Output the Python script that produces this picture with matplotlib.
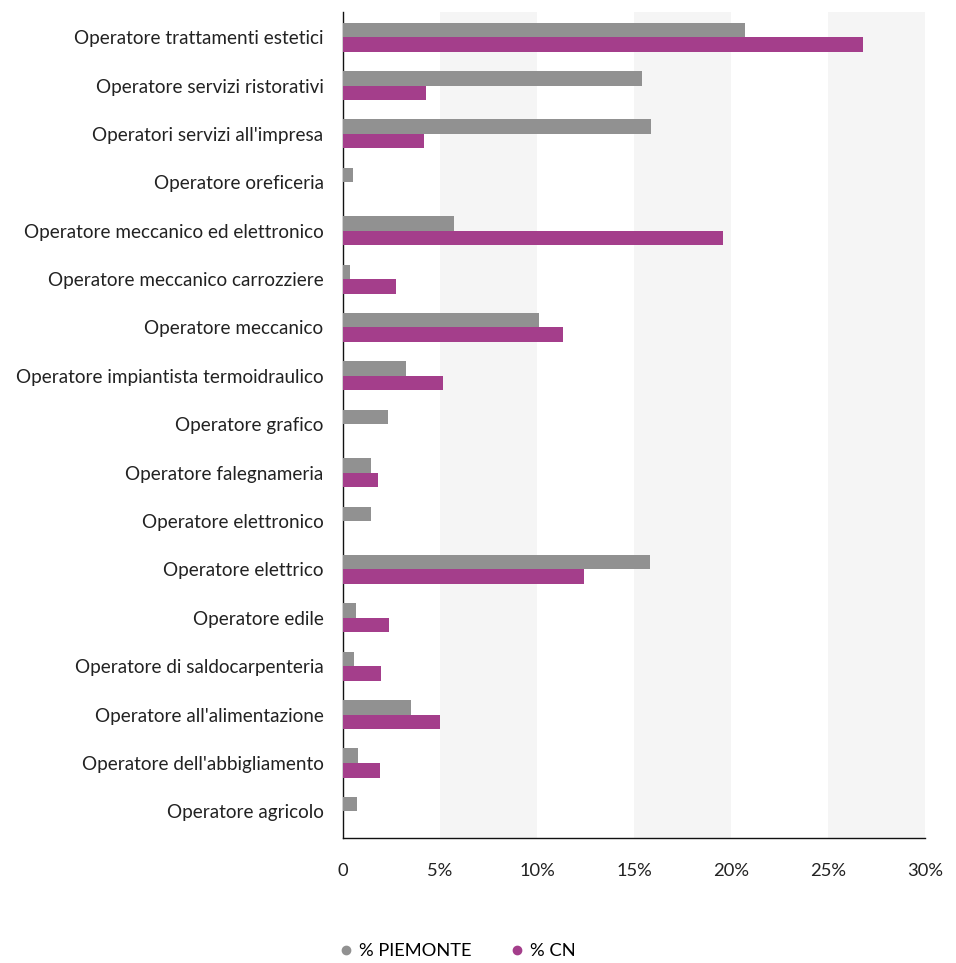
import numpy as np
import matplotlib
matplotlib.use("Agg")
import matplotlib.pyplot as plt
from matplotlib.lines import Line2D

categories = [
    "Operatore trattamenti estetici",
    "Operatore servizi ristorativi",
    "Operatori servizi all'impresa",
    "Operatore oreficeria",
    "Operatore meccanico ed elettronico",
    "Operatore meccanico carrozziere",
    "Operatore meccanico",
    "Operatore impiantista termoidraulico",
    "Operatore grafico",
    "Operatore falegnameria",
    "Operatore elettronico",
    "Operatore elettrico",
    "Operatore edile",
    "Operatore di saldocarpenteria",
    "Operatore all'alimentazione",
    "Operatore dell'abbigliamento",
    "Operatore agricolo",
]
piemonte = [20.7, 15.4, 15.9, 0.5, 5.7, 0.35, 10.1, 3.25, 2.3, 1.45, 1.45,
            15.8, 0.65, 0.55, 3.5, 0.75, 0.7]
cn = [26.8, 4.3, 4.2, 0, 19.6, 2.75, 11.35, 5.15, 0, 1.8, 0,
      12.4, 2.35, 1.95, 5.0, 1.9, 0]
xticks = [0, 5, 10, 15, 20, 25, 30]
xlabels = ["0", "5%", "10%", "15%", "20%", "25%", "30%"]

grey = "#919191"
magenta = "#a43e8b"

plt.rcParams["font.family"] = ["Lato", "DejaVu Sans"]

fig = plt.figure(figsize=(9.56, 9.63), dpi=100)
ax = fig.add_axes([343 / 956, 1 - 838 / 963, 582 / 956, 826 / 963])

y = np.arange(len(categories))
h = 0.30
ax.barh(y - h / 2, piemonte, height=h, color=grey, zorder=3)
ax.barh(y + h / 2, cn, height=h, color=magenta, zorder=3)

# alternating background bands
for x0 in range(5, 30, 10):
    ax.axvspan(x0, x0 + 5, color="#f5f5f5", zorder=0, lw=0)

ax.set_xlim(0, 30)
ax.set_ylim(len(categories) - 0.5 + 0.05, -0.5 - 0.02)
ax.set_yticks(y)
ax.set_yticklabels(categories, fontsize=13.6, color="#222222")
ax.set_xticks(xticks)
ax.set_xticklabels(xlabels, fontsize=13.2, color="#222222")
ax.tick_params(length=0)
ax.tick_params(axis="x", pad=18)
ax.tick_params(axis="y", pad=14)

for side in ["top", "right"]:
    ax.spines[side].set_visible(False)
for side in ["left", "bottom"]:
    ax.spines[side].set_color("#111111")
    ax.spines[side].set_linewidth(1.0)

handles = [
    Line2D([], [], marker="o", ls="", color=grey, markersize=6, label="% PIEMONTE"),
    Line2D([], [], marker="o", ls="", color=magenta, markersize=6, label="% CN"),
]
fig.legend(handles=handles, loc="center", bbox_to_anchor=(456 / 956, 1 - 951 / 963),
           ncol=2, frameon=False, fontsize=13.2, handletextpad=0.2, columnspacing=2.0,
           handlelength=1.0)

fig.savefig("out.png", dpi=100, facecolor="white")
